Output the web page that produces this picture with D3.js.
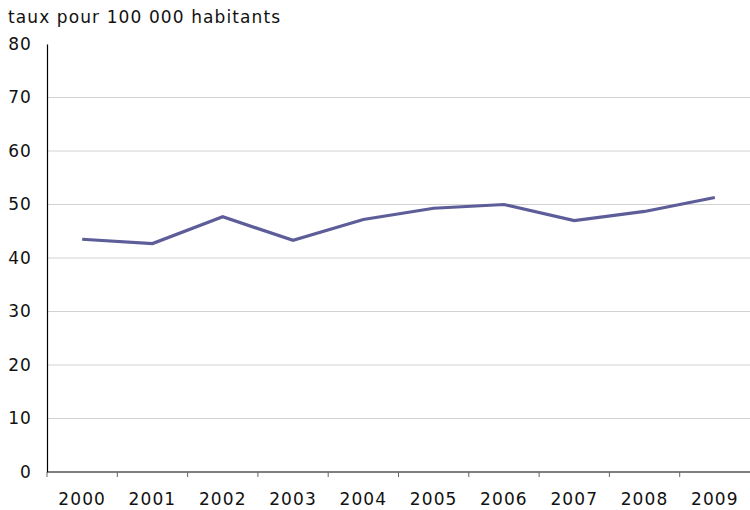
<!DOCTYPE html>
<html>
<head>
<meta charset="utf-8">
<script src="https://cdn.jsdelivr.net/npm/d3@7"></script>
<style>
  html, body { margin: 0; padding: 0; background: #fff; }
  svg { display: block; font-family: "DejaVu Sans", Verdana, sans-serif; }
  svg text { letter-spacing: 1.1px; }
</style>
</head>
<body>
<svg id="chart" width="750" height="510"></svg>
<script>
// Taux pour 100 000 habitants, 2000–2009
const years = ["2000", "2001", "2002", "2003", "2004", "2005", "2006", "2007", "2008", "2009"];
const rates = [43.5, 42.7, 47.7, 43.3, 47.2, 49.3, 50.0, 47.0, 48.7, 51.3];
const yTicks = [0, 10, 20, 30, 40, 50, 60, 70, 80];
const unitLabel = "taux pour 100 000 habitants";

const svg = d3.select("#chart");
const margin = { left: 47, right: 0, top: 44, bottom: 38 };
const W = 750, H = 510;
const fontSize = 17;

const x = d3.scaleBand().domain(years).range([margin.left, W - margin.right]);
const y = d3.scaleLinear().domain([0, 80]).range([H - margin.bottom, margin.top]);

// horizontal gridlines
svg.append("g")
  .selectAll("line")
  .data(yTicks.filter(d => d > 0 && d < 80))
  .join("line")
  .attr("x1", margin.left).attr("x2", W)
  .attr("y1", d => y(d)).attr("y2", d => y(d))
  .attr("stroke", "#d2d2d2").attr("stroke-width", 1);

// y axis
const yAxis = svg.append("g")
  .attr("transform", `translate(${margin.left},0)`)
  .call(d3.axisLeft(y).tickValues(yTicks).tickSize(0).tickPadding(15));
yAxis.select(".domain").attr("stroke", "#000").attr("stroke-width", 1.2);
yAxis.selectAll("text").attr("font-size", fontSize).attr("fill", "#111")
  .style("font-family", "'DejaVu Sans', Verdana, sans-serif");

// x axis: ticks on band boundaries, labels in band centres
const xAxis = svg.append("g")
  .attr("transform", `translate(0,${y(0)})`);
xAxis.append("line")
  .attr("x1", margin.left).attr("x2", W)
  .attr("stroke", "#000").attr("stroke-width", 1.2);
xAxis.selectAll("line.tick")
  .data(years)
  .join("line")
  .attr("class", "tick")
  .attr("x1", d => x(d)).attr("x2", d => x(d))
  .attr("y1", 0).attr("y2", 5)
  .attr("stroke", "#666");
xAxis.selectAll("text")
  .data(years)
  .join("text")
  .attr("x", d => x(d) + x.bandwidth() / 2)
  .attr("y", 33)
  .attr("text-anchor", "middle")
  .attr("font-size", fontSize)
  .attr("fill", "#111")
  .text(d => d);

// unit label
svg.append("text")
  .attr("x", 8).attr("y", 23)
  .attr("font-size", fontSize)
  .attr("fill", "#111")
  .text(unitLabel);

// data line
const line = d3.line()
  .x((d, i) => x(years[i]) + x.bandwidth() / 2)
  .y(d => y(d));

svg.append("path")
  .datum(rates)
  .attr("d", line)
  .attr("fill", "none")
  .attr("stroke", "#5d5d99")
  .attr("stroke-width", 3.2)
  .attr("stroke-linejoin", "miter");
</script>
</body>
</html>
